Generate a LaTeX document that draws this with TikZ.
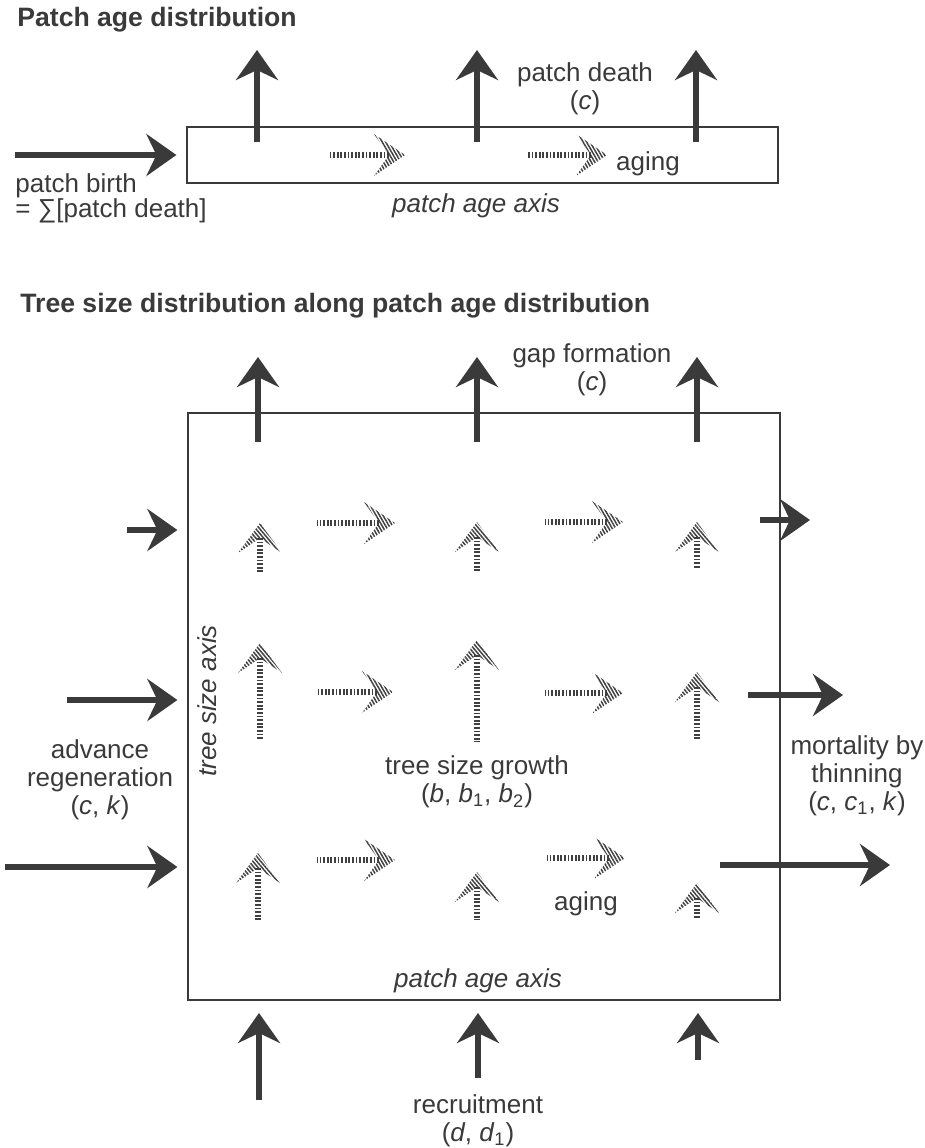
\documentclass[tikz,border=0pt]{standalone}
\usepackage{fontspec}
\setmainfont{Liberation Sans}
\usetikzlibrary{arrows.meta,patterns.meta}
\definecolor{pInk}{HTML}{3A3A3A}
\definecolor{pHatch}{HTML}{404040}

\begin{document}
\begin{tikzpicture}[x=0.5pt,y=-0.5pt,every node/.style={text=pInk,inner sep=0pt,font=\fontsize{13}{14}\selectfont}]
	\tikzset{
		flow/.style={draw=pInk,line width=3pt,-{Stealth[length=15pt,width=21pt,inset=5pt]}},
		frame/.style={draw=pInk,line width=0.6pt},
		lbl/.style={align=center},
		axislbl/.style={font=\fontsize{13}{14}\selectfont\itshape},
		title/.style={font=\fontsize{13.3}{14}\selectfont\bfseries,anchor=base west},
		hatch/.style={pattern={Lines[angle=#1,distance=1.5pt,line width=0.75pt]},pattern color=pHatch},
		pics/hatchup/.style={code={
			\fill[hatch=-50] (0,0) --++(-22,30) --++(22,-15) --++(22,15) --cycle;
			\draw[pHatch,line width=3.4pt,dash pattern=on 0.9pt off 0.9pt] (0,15) -- (0,#1);
		}},
		pics/hatchright/.style={code={
			\fill[hatch=-60] (0,0) --++(-31,-21) --++(15,21) --++(-15,21) --cycle;
			\draw[pHatch,line width=3.4pt,dash pattern=on 0.9pt off 0.9pt] (-16,0) -- (-#1,0);
		}}
	}
	\useasboundingbox (0,0) rectangle (925,1148);

	% patch age distribution
	\node[title] (title1) at (17,26) {Patch age distribution};
	\node[frame,minimum width=295.5pt,minimum height=28pt] (agebox) at (482.5,155) {};
	\coordinate (birth) at (15,155);
	\draw[flow,shorten >=5pt] (birth) -- (agebox.west);
	\foreach \x [count=\i] in {257,477,696}{
		\coordinate (death\i) at (\x,142);
		\coordinate (deathtip\i) at (\x,50);
		\draw[flow] (death\i) -- (deathtip\i);
	}
	\foreach \x/\y/\l in {405/155/77,607/155/80}
		\pic at (\x,\y) {hatchright=\l};
	\node[lbl] (deathlbl) at (585,89) {patch death\\(\textit{c})};
	\node[anchor=west,align=left,font=\fontsize{13}{12.5}\selectfont] (birthlbl) at (15,198) {patch birth\\= ∑[patch death]};
	\node[anchor=base] (aging1) at (648,170) {aging};
	\node[axislbl,anchor=base] (ageaxis1) at (476,212) {patch age axis};

	% tree size distribution
	\node[title] (title2) at (20,312) {Tree size distribution along patch age distribution};
	\node[frame,minimum width=296pt,minimum height=293.5pt] (sizebox) at (484,706.5) {};
	\foreach \x [count=\i] in {258,477,697}{
		\coordinate (gap\i) at (\x,442);
		\coordinate (gaptip\i) at (\x,357);
		\draw[flow] (gap\i) -- (gaptip\i);
	}
	\foreach \x/\y [count=\i] in {127/530,67/700,5/867}{
		\coordinate (adv\i) at (\x,\y);
		\draw[flow,shorten >=5pt] (adv\i) -- (adv\i -| sizebox.west);
	}
	\foreach \x/\y/\t [count=\i] in {760/520/810,748/695/843,720/865/890}{
		\coordinate (thin\i) at (\x,\y);
		\coordinate (thintip\i) at (\t,\y);
		\draw[flow] (thin\i) -- (thintip\i);
	}
	\foreach \x/\y [count=\i] in {259/1100,478/1078,698/1060}{
		\coordinate (rec\i) at (\x,\y);
		\coordinate (rectip\i) at (\x,1013);
		\draw[flow] (rec\i) -- (rectip\i);
	}
	\foreach \x/\y/\l in {395/523/78,623/522/78,393/692/76,623/693/78,395/860/78,625/858/78}
		\pic at (\x,\y) {hatchright=\l};
	\foreach \x/\y/\l in {260/523/50,477/522/50,697/522/46,260/643/97,477/640/102,697/672/68,258/853/67,477/872/48,697/883/35}
		\pic at (\x,\y) {hatchup=\l};
	\node[lbl] (gaplbl) at (592,370) {gap formation\\(\textit{c})};
	\node[axislbl,rotate=90] (sizeaxis) at (207,701) {tree size axis};
	\node[lbl] (growthlbl) at (477,782) {tree size growth\\(\textit{b}, \textit{b}\textsubscript{1}, \textit{b}\textsubscript{2})};
	\node[lbl] (advlbl) at (100,780) {advance\\regeneration\\(\textit{c}, \textit{k})};
	\node[lbl] (thinlbl) at (857,776) {mortality by\\thinning\\(\textit{c}, \textit{c}\textsubscript{1}, \textit{k})};
	\node[anchor=base] (aging2) at (586,910) {aging};
	\node[axislbl,anchor=base] (ageaxis2) at (478,987) {patch age axis};
	\node[lbl] (reclbl) at (478,1121) {recruitment\\(\textit{d}, \textit{d}\textsubscript{1})};
\end{tikzpicture}
\end{document}
